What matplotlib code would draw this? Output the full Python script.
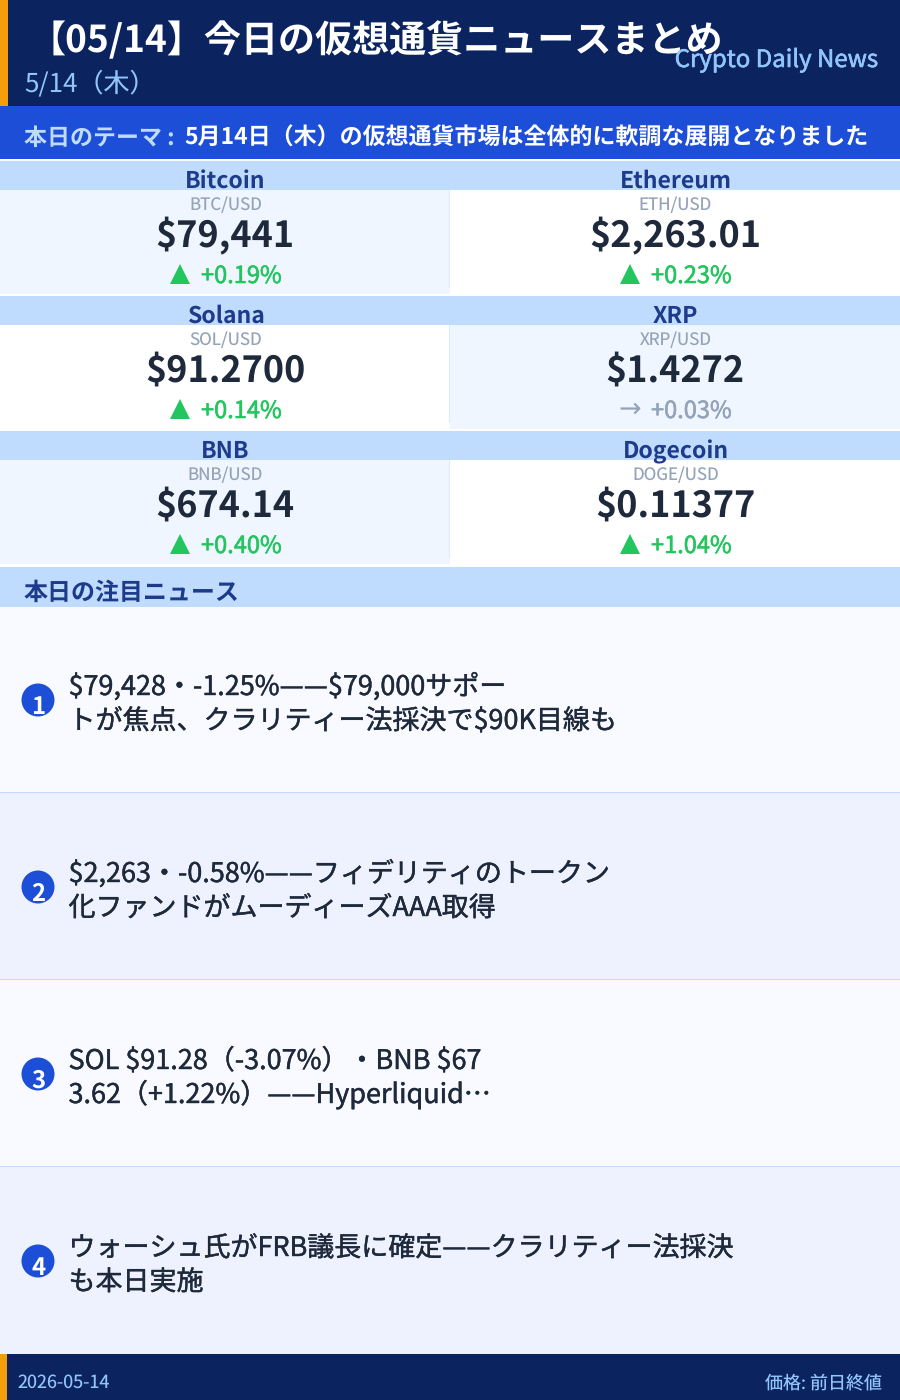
import matplotlib
matplotlib.use('Agg')
import matplotlib.pyplot as plt
import matplotlib.patheffects as pe
from matplotlib.patches import Rectangle, Circle

plt.rcParams['font.family'] = ['Noto Sans CJK JP', 'DejaVu Sans']
plt.rcParams['text.parse_math'] = False
plt.rcParams['text.hinting'] = 'none'

NAVY = '#0b2460'
BLUE = '#1d4ed8'
BAND = '#bfdbfe'
ORANGE = '#f59e0b'
LIGHT = '#93c5fd'
DARK = '#1e293b'
HEAD = '#1e3a8a'
GREY = '#94a3b8'
GREEN = '#22c55e'

title = '【05/14】今日の仮想通貨ニュースまとめ'
date_label = '5/14（木）'
brand = 'Crypto Daily News'
theme_key = '本日のテーマ :'
theme_text = '5月14日（木）の仮想通貨市場は全体的に軟調な展開となりました'
news_head = '本日の注目ニュース'
footer_left = '2026-05-14'
footer_right = '価格: 前日終値'

names = ['Bitcoin', 'Ethereum', 'Solana', 'XRP', 'BNB', 'Dogecoin']
pairs = ['BTC/USD', 'ETH/USD', 'SOL/USD', 'XRP/USD', 'BNB/USD', 'DOGE/USD']
prices = ['$79,441', '$2,263.01', '$91.2700', '$1.4272', '$674.14', '$0.11377']
changes = [0.19, 0.23, 0.14, 0.03, 0.40, 1.04]
flat = [False, False, False, True, False, False]

news = [
    ['$79,428・-1.25%——$79,000サポー', 'トが焦点、クラリティー法採決で$90K目線も'],
    ['$2,263・-0.58%——フィデリティのトークン', '化ファンドがムーディーズAAA取得'],
    ['SOL $91.28（-3.07%）・BNB $67', '3.62（+1.22%）——Hyperliquid…'],
    ['ウォーシュ氏がFRB議長に確定——クラリティー法採決', 'も本日実施'],
]


def px(size):
    return size * 0.72


def rect(ax, x, y, w, h, color):
    ax.add_patch(Rectangle((x, y), w, h, facecolor=color, edgecolor='none'))


def label(ax, x, y, s, size, color, weight='normal', ha='left', heavy=0):
    t = ax.text(x, y, s, fontsize=px(size), color=color, fontweight=weight, ha=ha, va='baseline')
    if heavy:
        # the reference text sits a little heavier than Regular
        t.set_path_effects([pe.withStroke(linewidth=heavy, foreground=color)])
    return t


fig = plt.figure(figsize=(9, 14), dpi=100)
ax = fig.add_axes([0, 0, 1, 1])
ax.set_xlim(0, 900)
ax.set_ylim(1400, 0)
ax.axis('off')

# header
rect(ax, 0, 0, 900, 106, NAVY)
rect(ax, 0, 0, 8, 106, ORANGE)
label(ax, 29, 52, title, 37.05, 'white', 'bold')
label(ax, 24, 91, date_label, 26, LIGHT)
label(ax, 878, 67, brand, 24, LIGHT, ha='right', heavy=0.4)

# theme bar
rect(ax, 0, 106, 900, 53, BLUE)
label(ax, 24, 145, theme_key, 23, BAND, 'bold')
label(ax, 184, 145, theme_text, 23, 'white', 'bold')

# price cards
row_tops = [161, 296, 431]
for i, name in enumerate(names):
    row = i // 2
    col = i % 2
    top = row_tops[row]
    left = col * 450
    cx = left + 225
    rect(ax, left, top, 450, 29, BAND)
    shade = '#eff6ff' if (row + col) % 2 == 0 else 'white'
    rect(ax, left, top + 29, 450, 104, shade)
    if col == 0:
        rect(ax, 449, top + 29, 1, 98, '#dbeafe')
    label(ax, cx + 0.5, top + 27, name, 23, HEAD, 'bold', ha='center')
    label(ax, cx + 0.5, top + 49, pairs[i], 17, GREY, ha='center')
    label(ax, cx, top + 86, prices[i], 36, DARK, 'bold', ha='center')
    txt = f'+{changes[i]:.2f}%'
    if flat[i]:
        ax.text(left + 180, top + 113, '→', fontsize=px(27), color=GREY, va='center', ha='center', family='DejaVu Sans')
        label(ax, left + 201, top + 122, txt, 23.6, GREY, heavy=0.4)
    else:
        ax.plot([left + 180], [top + 113], marker='^', ms=14, color=GREEN, mew=0)
        label(ax, left + 201, top + 122, txt, 23.6, GREEN, heavy=0.4)

# news
rect(ax, 0, 567, 900, 40, BAND)
label(ax, 24, 599.5, news_head, 24, HEAD, 'bold')
news_tops = [607, 793, 980, 1167, 1354]
for i, lines in enumerate(news):
    top = news_tops[i]
    h = news_tops[i + 1] - top
    rect(ax, 0, top, 900, h, '#f8faff' if i % 2 == 0 else '#eef2ff')
    if i > 0:
        rect(ax, 0, top - 1, 900, 1, BAND)
    cy = 700 + i * 187
    ax.add_patch(Circle((38, cy), 16.5, facecolor=BLUE, edgecolor='none'))
    label(ax, 38.5, cy + 14, str(i + 1), 24, 'white', 'bold', ha='center')
    label(ax, 68.5, cy - 5, lines[0], 27, DARK, heavy=0.3)
    label(ax, 68.5, cy + 29, lines[1], 27, DARK, heavy=0.3)

# footer
rect(ax, 0, 1354, 900, 46, NAVY)
rect(ax, 0, 1354, 7, 46, ORANGE)
label(ax, 17.5, 1388, footer_left, 18, LIGHT)
label(ax, 882, 1388, footer_right, 18, LIGHT, ha='right')

fig.savefig('out.png', dpi=100)
